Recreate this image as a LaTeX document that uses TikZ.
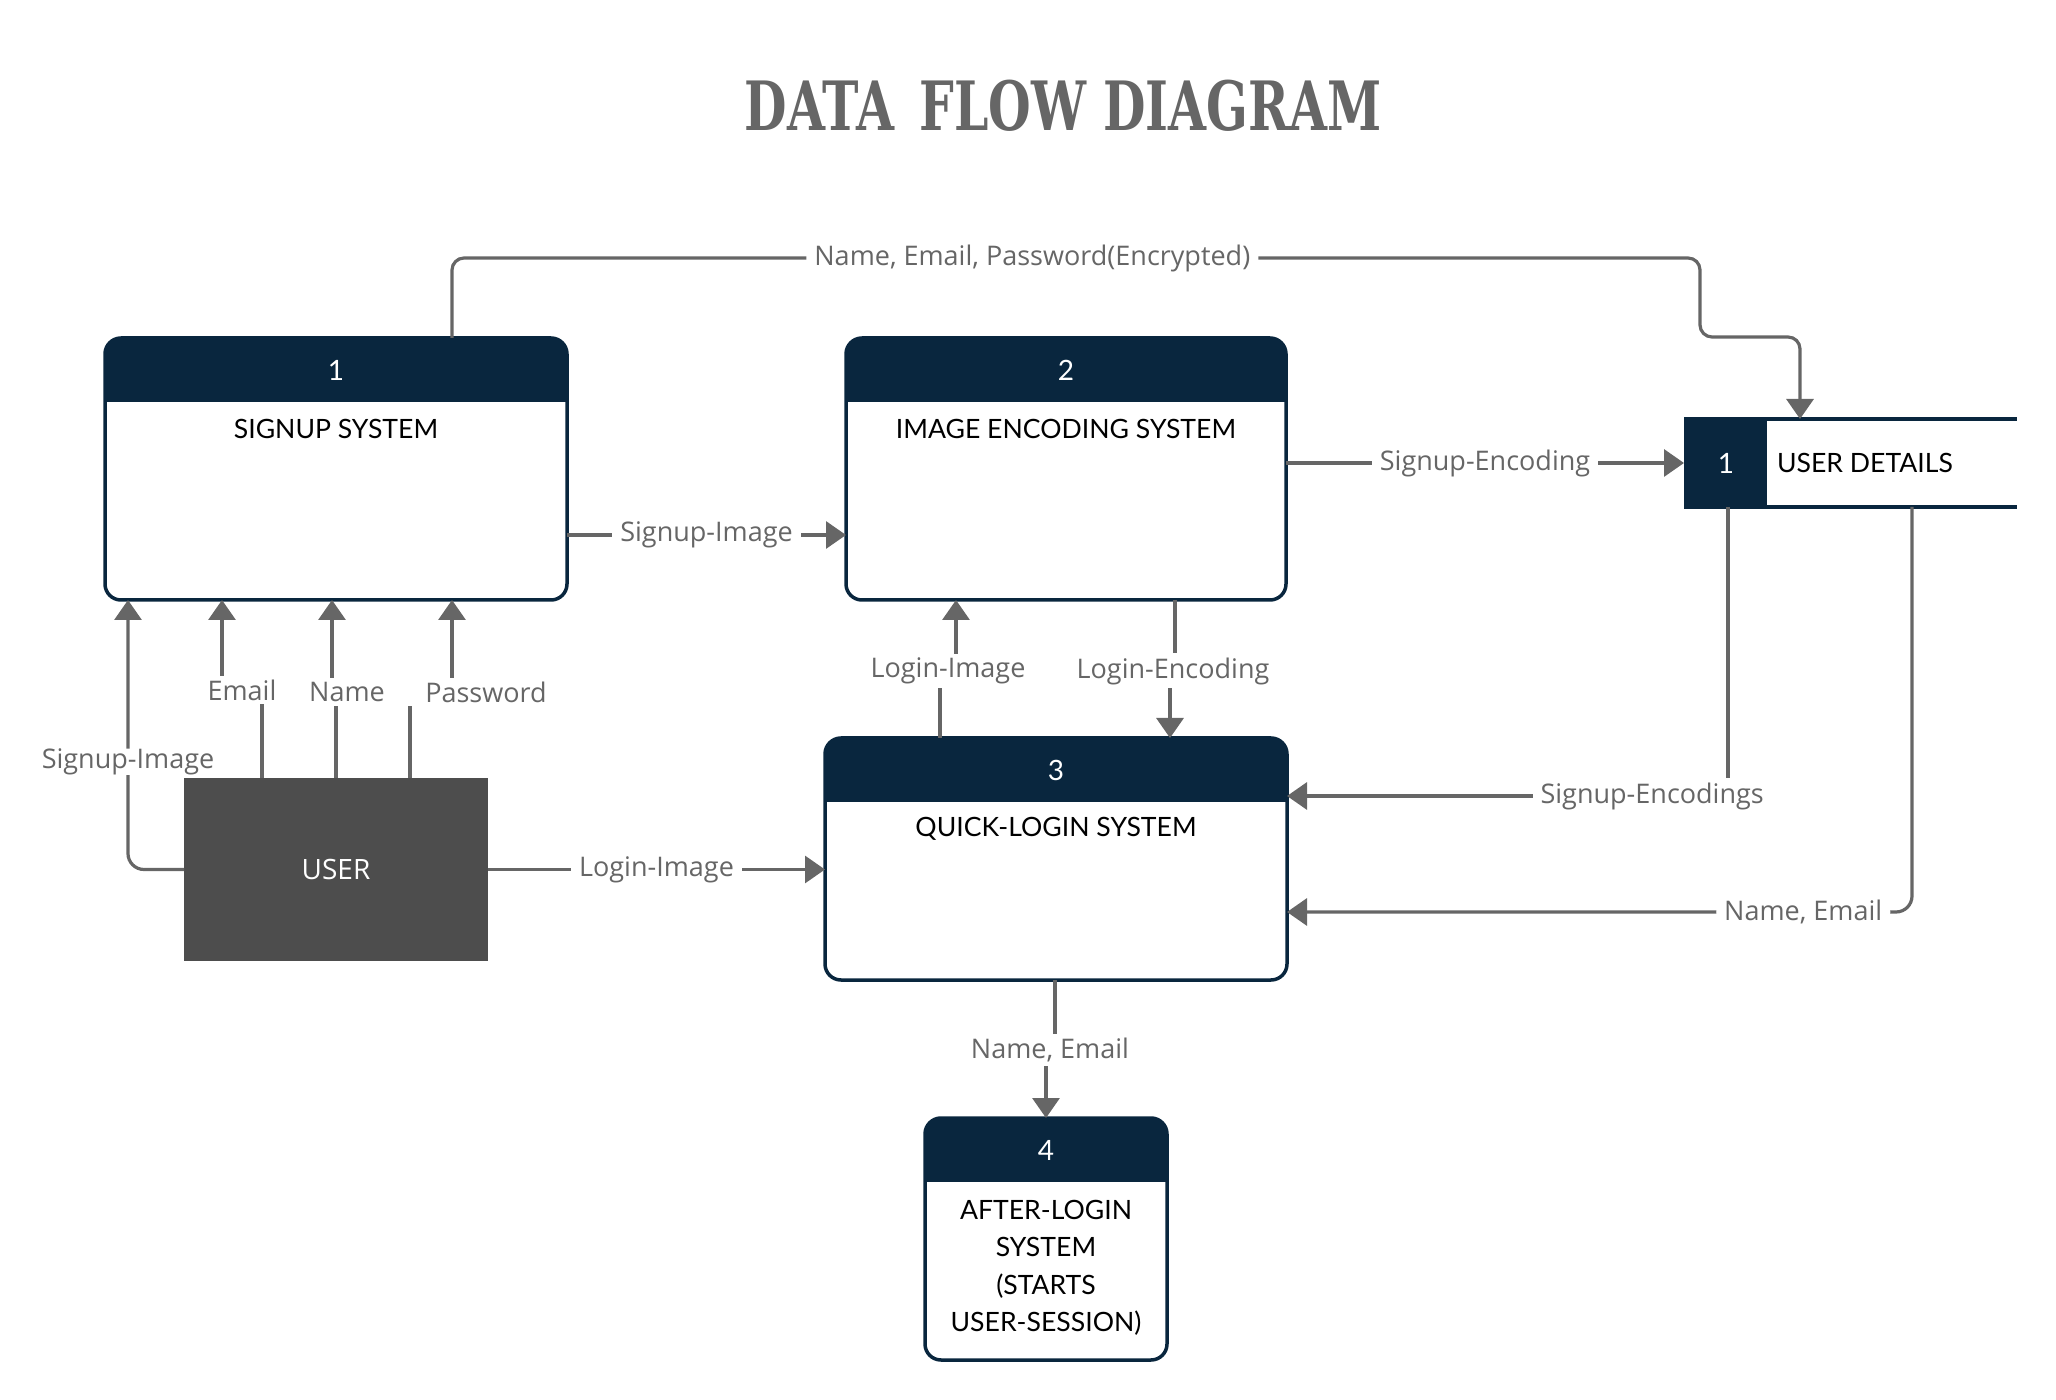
\documentclass[tikz,border=0pt]{standalone}
\usepackage{fontspec}
\usepackage{graphicx}
\setmainfont{Lato}
\newfontfamily\lblfont{Open Sans}
\newfontfamily\titlefont{DejaVu Serif}
\usetikzlibrary{arrows.meta}
\definecolor{navy}{RGB}{9,38,62}
\definecolor{flowgray}{RGB}{102,102,102}
\definecolor{usergray}{RGB}{77,77,77}
\tikzset{
  proc/.style={rectangle, inner sep=0pt, outer sep=0pt},
  boxline/.style={draw=navy, line width=1.75pt, rounded corners=8pt},
  num/.style={text=white, font=\fontsize{14}{16}\selectfont},
  ptxt/.style={text=black, font=\fontsize{13.3}{18.7}\selectfont, align=center},
  flow/.style={draw=flowgray, line width=1.6pt, -{Triangle[width=13.5pt,length=10pt]}},
  lbl/.style={fill=white, text=flowgray, font=\lblfont\fontsize{13.5}{16}\selectfont, inner xsep=4pt, inner ysep=2pt}
}
\begin{document}
\begin{tikzpicture}[x=0.5pt,y=-0.5pt]
\useasboundingbox (0,0) rectangle (2056,1400);

\node[text=flowgray, font=\titlefont\bfseries\fontsize{34}{40}\selectfont] (title) at (1063,106) {\scalebox{0.72}[1]{DATA\, FLOW DIAGRAM}};

\node[proc, minimum width=231pt, minimum height=131pt] (b1) at (336,469) {};
\node[proc, minimum width=220pt, minimum height=131pt] (b2) at (1066,469) {};
\node[proc, minimum width=231pt, minimum height=121pt] (b3) at (1056,859) {};
\node[proc, minimum width=121pt, minimum height=121pt] (b4) at (1046,1239) {};

\foreach \b in {b1,b2,b3,b4} {
  \begin{scope}
    \clip[rounded corners=8pt] (\b.south west) rectangle (\b.north east);
    \fill[white] (\b.south west) rectangle (\b.north east);
    \fill[navy] (\b.north west) rectangle ([yshift=-32pt]\b.north east);
  \end{scope}
  \draw[boxline] (\b.south west) rectangle (\b.north east);
}

\node[num] (b1num) at ([yshift=-16pt]b1.north) {1};
\node[ptxt] (b1txt) at ([yshift=-45.5pt]b1.north) {SIGNUP SYSTEM};
\node[num] (b2num) at ([yshift=-16pt]b2.north) {2};
\node[ptxt] (b2txt) at ([yshift=-45.5pt]b2.north) {IMAGE ENCODING SYSTEM};
\node[num] (b3num) at ([yshift=-16pt]b3.north) {3};
\node[ptxt] (b3txt) at ([yshift=-45.5pt]b3.north) {QUICK-LOGIN SYSTEM};
\node[num] (b4num) at ([yshift=-16pt]b4.north) {4};
\node[ptxt] (b4txt) at ([yshift=-75pt]b4.north) {AFTER-LOGIN\\SYSTEM\\(STARTS\\USER-SESSION)};

% user entity
\node[proc, fill=usergray, minimum width=152pt, minimum height=91.5pt, text=white, font=\lblfont\fontsize{14}{16}\selectfont] (user) at (336,869.5) {USER};

% data store
\node[proc, minimum width=166.5pt, minimum height=44pt] (st) at (1850.5,463) {};
\fill[navy] (st.north west) rectangle (1767,0 |- st.south);
\draw[navy, line width=1.75pt] (st.north west) -- (st.north east);
\draw[navy, line width=1.75pt] (st.south west) -- (st.south east);
\node[num] (stnum) at (1726,463) {1};
\node[ptxt, anchor=west] (sttxt) at (1770,463) {USER DETAILS};

% flows
\draw[flow, rounded corners=6pt] (452,0 |- b1.north) -- (452,258) -- node[lbl, pos=0.465]{Name, Email, Password(Encrypted)} (1700,258) -- (1700,337) -- (1800,337) -- (1800,0 |- st.north);
\draw[flow] (b1.east |- 0,535) -- node[lbl]{Signup-Image} (b2.west |- 0,535);
\draw[flow] (b2.east |- st.west) -- node[lbl]{Signup-Encoding} (st.west);

\draw[flow, rounded corners=8pt] (user.west) -| node[lbl, pos=0.70, inner ysep=0pt]{Signup-Image} (128,0 |- b1.south);
\draw[flow] (262,0 |- user.north) |- (242,690) node[lbl]{Email} -| (222,0 |- b1.south);
\draw[flow] (336,0 |- user.north) |- (347,692) node[lbl]{Name} -| (332,0 |- b1.south);
\draw[flow] (410,0 |- user.north) |- (486,692) node[lbl, inner xsep=9pt]{Password} -| (452,0 |- b1.south);

\draw[flow] (user.east) -- node[lbl]{Login-Image} (b3.west |- user.east);
\draw[flow] (940,0 |- b3.north) |- (948,671) node[lbl]{Login-Image} -| (956,0 |- b2.south);
\draw[flow] (1175,0 |- b2.south) |- (1173,671) node[lbl]{Login-Encoding} -| (1170,0 |- b3.north);

\draw[flow] (1728,0 |- st.south) |- node[lbl, pos=0.586]{Signup-Encodings} (b3.east |- 0,796);
\draw[flow, rounded corners=8pt] (1912,0 |- st.south) |- node[lbl, pos=0.587]{Name, Email} (b3.east |- 0,912);

\draw[flow] (1055,0 |- b3.south) |- (1050,1050) node[lbl]{Name, Email} -| (b4.north);
\end{tikzpicture}
\end{document}
